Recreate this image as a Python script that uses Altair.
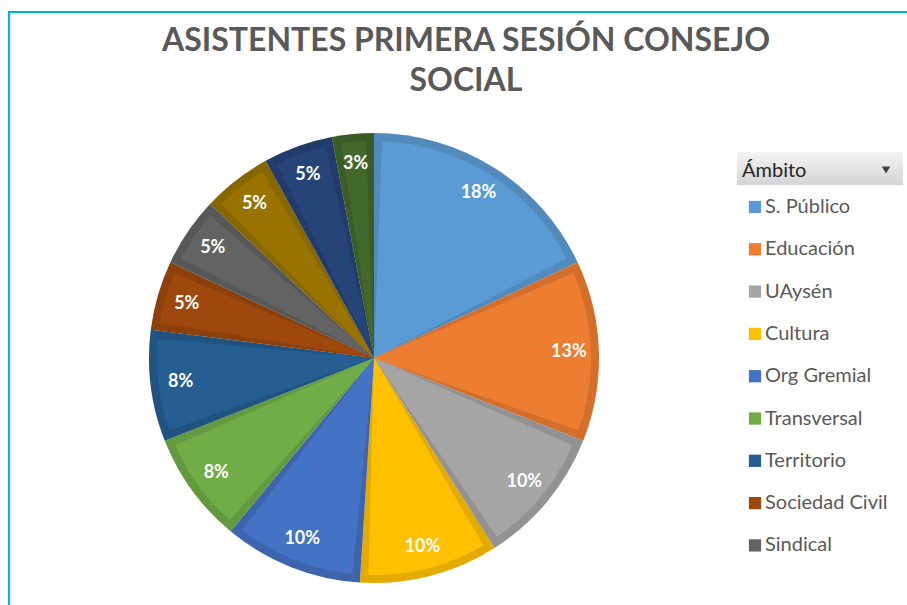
import altair as alt
import pandas as pd

# ---- data ----
categories = ["S. Público", "Educación", "UAysén", "Cultura", "Org Gremial",
              "Transversal", "Territorio", "Sociedad Civil", "Sindical",
              "Salud", "Medio Ambiente", "Deporte"]
percentages = [18, 13, 10, 10, 10, 8, 8, 5, 5, 5, 5, 3]
colors = ["#5B9BD5", "#ED7D31", "#A5A5A5", "#FFC000", "#4472C4", "#70AD47",
          "#255E91", "#9E480E", "#636363", "#997300", "#264478", "#43682B"]
title_lines = ["ASISTENTES PRIMERA SESIÓN CONSEJO", "SOCIAL"]
legend_title = "Ámbito"
legend_shown = categories[:9]

df = pd.DataFrame({"ambito": categories, "valor": percentages,
                   "orden": list(range(len(categories)))})
one = pd.DataFrame({"k": [0]})

CX, CY, R = 374, 358, 225
BAND = 8
FONT = "Lato"

scale = alt.Scale(domain=categories, range=colors)
legend = alt.Legend(orient="none", legendX=745, legendY=197, title=None,
                    values=legend_shown, symbolType="square", symbolSize=150,
                    symbolStrokeWidth=0, symbolOpacity=1, labelFont=FONT,
                    labelFontSize=20, labelColor="#595959", rowPadding=22.3,
                    labelOffset=0, padding=0, labelLimit=300)

base = alt.Chart(df).encode(
    theta=alt.Theta("valor:Q", stack=True),
    order=alt.Order("orden:Q", sort="ascending"),
    x=alt.value(CX), y=alt.value(CY),
)

outer = base.mark_arc(radius=R).encode(
    color=alt.Color("ambito:N", scale=scale, sort=categories, legend=legend))
shade = base.mark_arc(radius=R, color="black", opacity=0.11)
inner = base.mark_arc(radius=R - BAND, padAngle=0.0737).encode(
    color=alt.Color("ambito:N", scale=scale, sort=categories, legend=None))
labels = base.transform_joinaggregate(total="sum(valor)").transform_calculate(
    label="round(datum.valor / datum.total * 100) + '%'"
).mark_text(radius=195, font=FONT, fontSize=18, fontWeight="bold",
            color="white").encode(text="label:N")

title_style = dict(font=FONT, fontSize=32, fontWeight="bold", color="#595959",
                   align="center", baseline="alphabetic")
title1 = alt.Chart(one).mark_text(**title_style).encode(
    x=alt.value(466), y=alt.value(51), text=alt.value(title_lines[0]))
title2 = alt.Chart(one).mark_text(**title_style).encode(
    x=alt.value(466), y=alt.value(91), text=alt.value(title_lines[1]))

frame_v = alt.Chart(one).mark_rule(color="#00B0F0", strokeWidth=2).encode(
    x=alt.value(9), y=alt.value(12), y2=alt.value(605))
frame_h = alt.Chart(one).mark_rule(color="#00B0F0", strokeWidth=2).encode(
    x=alt.value(8), x2=alt.value(907), y=alt.value(12))
frame_v2 = alt.Chart(one).mark_rule(color="#DDDDDD", strokeWidth=1).encode(
    x=alt.value(11), y=alt.value(14), y2=alt.value(605))

header = alt.Chart(one).mark_rect(
    color=alt.Gradient(gradient="linear",
                       stops=[alt.GradientStop(color="#F4F4F4", offset=0),
                              alt.GradientStop(color="#D4D4D4", offset=1)],
                       x1=0, x2=0, y1=0, y2=1)
).encode(x=alt.value(737), x2=alt.value(903), y=alt.value(152), y2=alt.value(185))
header_text = alt.Chart(one).mark_text(font=FONT, fontSize=20, color="#262626",
                                       align="left", baseline="alphabetic").encode(
    x=alt.value(742), y=alt.value(177), text=alt.value(legend_title))
arrow = alt.Chart(one).mark_point(shape="triangle-down", filled=True, size=70,
                                  color="#404040", opacity=1).encode(
    x=alt.value(886), y=alt.value(170))

chart = alt.layer(
    frame_v, frame_v2, frame_h, outer, shade, inner, labels,
    title1, title2, header, header_text, arrow
).properties(
    width=907, height=605, autosize="none", padding=0
).configure_view(stroke=None)

chart.save("out.html", embed_options={"renderer": "svg", "actions": False})
